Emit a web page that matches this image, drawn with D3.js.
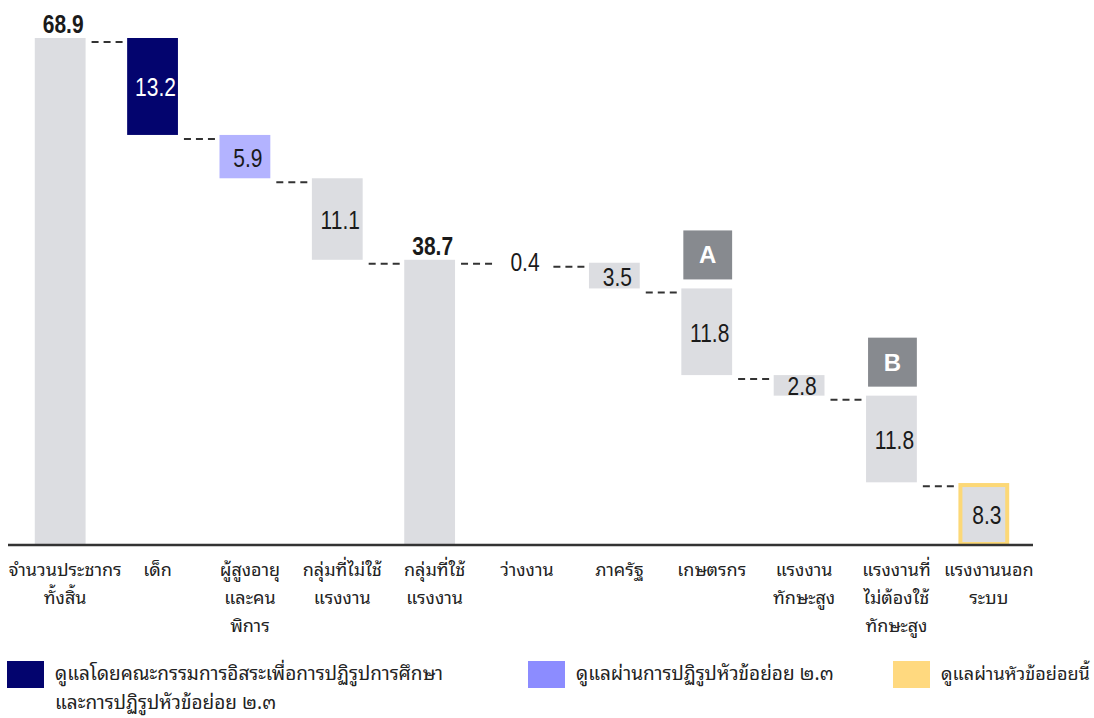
<!DOCTYPE html>
<meta charset="utf-8">
<style>
  body { margin: 0; background: #fff; }
  .cat { font-family: "Tahoma", "Noto Sans Thai Looped", "Loma", "Garuda", "Noto Sans Thai", sans-serif; font-size: 18px; fill: #222; }
  .val { font-family: "Liberation Sans", Arial, sans-serif; font-size: 25px; fill: #1a1a1a; }
  .leg { font-family: "Tahoma", "Noto Sans Thai Looped", "Loma", "Garuda", "Noto Sans Thai", sans-serif; font-size: 19px; fill: #222; }
</style>
<script src="https://cdn.jsdelivr.net/npm/d3@7"></script>
<svg id="chart" width="1094" height="718"></svg>
<script>

// categories (each entry = lines of the label)
var categories = [
  ["จำนวนประชากร", "ทั้งสิ้น"],
  ["เด็ก"],
  ["ผู้สูงอายุ", "และคน", "พิการ"],
  ["กลุ่มที่ไม่ใช้", "แรงงาน"],
  ["กลุ่มที่ใช้", "แรงงาน"],
  ["ว่างงาน"],
  ["ภาครัฐ"],
  ["เกษตรกร"],
  ["แรงงาน", "ทักษะสูง"],
  ["แรงงานที่", "ไม่ต้องใช้", "ทักษะสูง"],
  ["แรงงานนอก", "ระบบ"]
];
var values = [68.9, 13.2, 5.9, 11.1, 38.7, 0.4, 3.5, 11.8, 2.8, 11.8, 8.3];
// total = bar from zero, step = floating drop, none = label only, final = highlighted total
var kinds = ["total", "navy", "purple", "step", "total", "none", "step", "step", "step", "step", "final"];

var markerLabels = ["A", "B"];
var markerIndex = [7, 9];

var legendLabels = [
  ["ดูแลโดยคณะกรรมการอิสระเพื่อการปฏิรูปการศึกษา", "และการปฏิรูปหัวข้อย่อย ๒.๓"],
  ["ดูแลผ่านการปฏิรูปหัวข้อย่อย  ๒.๓"],
  ["ดูแลผ่านหัวข้อย่อยนี้"]
];
var legendColors = ["#03046e", "#8c8cff", "#ffd97f"];

var svg = d3.select("#chart");
var width = +svg.attr("width");
var baseY = 544;

var x = d3.scaleBand()
  .domain(d3.range(values.length))
  .range([14, 1030])
  .paddingInner(0.45)
  .paddingOuter(0.225);

var y = d3.scaleLinear()
  .domain([0, 68.9])
  .range([baseY, 38]);

var fills = { total: "#dcdde1", step: "#dcdde1", navy: "#03046e", purple: "#b3b3ff", final: "#dcdde1" };

// running totals -> start / end of each bar
var run = 0;
var bars = values.map(function(v, i) {
  var k = kinds[i], lo, hi;
  if (k == "total" || k == "final") { lo = 0; hi = v; run = v; }
  else { hi = run; lo = run - v; run = lo; }
  return { i: i, v: v, kind: k, lo: lo, hi: hi, level: (k == "total" || k == "final") ? v : lo };
});

// connectors
var links = bars.slice(0, -1);
svg.append("g").selectAll("line")
  .data(links)
  .enter().append("line")
    .attr("x1", function(d) { return x(d.i) + x.bandwidth() + 6; })
    .attr("x2", function(d) { return x(d.i + 1) - 3; })
    .attr("y1", function(d) { return y(d.level) + 4; })
    .attr("y2", function(d) { return y(d.level) + 4; })
    .attr("stroke", "#333")
    .attr("stroke-width", 2)
    .attr("stroke-dasharray", "7,5");

// bars
svg.append("g").selectAll("rect")
  .data(bars.filter(function(d) { return d.kind != "none"; }))
  .enter().append("rect")
    .attr("x", function(d) { return x(d.i) + (d.kind == "final" ? 2 : 0); })
    .attr("width", function(d) { return x.bandwidth() - (d.kind == "final" ? 4 : 0); })
    .attr("y", function(d) { return y(d.hi) + (d.kind == "final" ? 2 : 0); })
    .attr("height", function(d) { return y(d.lo) - y(d.hi) - (d.kind == "final" ? 2 : 0); })
    .attr("fill", function(d) { return fills[d.kind]; })
    .attr("stroke", function(d) { return d.kind == "final" ? "#fcd877" : "none"; })
    .attr("stroke-width", 4);

// value labels (condensed look via horizontal squeeze)
svg.append("g").selectAll("text")
  .data(bars)
  .enter().append("text")
    .attr("class", "val")
    .attr("text-anchor", "middle")
    .attr("transform", function(d) {
      var cx = x(d.i) + x.bandwidth() / 2 + 3;
      var cy = d.kind == "total" ? y(d.hi) - 5 : (y(d.hi) + y(d.lo)) / 2 + 10;
      return "translate(" + cx + "," + cy + ") scale(0.84,1)";
    })
    .style("font-weight", function(d) { return d.kind == "total" ? "bold" : "normal"; })
    .style("fill", function(d) { return d.kind == "navy" ? "#fff" : "#1a1a1a"; })
    .text(function(d) { return d.v.toFixed(1); });

// A / B markers
var mk = svg.append("g").selectAll("g")
  .data(markerIndex)
  .enter().append("g");
mk.append("rect")
  .attr("x", function(d) { return x(d) + 2; })
  .attr("width", x.bandwidth() - 2)
  .attr("y", function(d) { return y(bars[d].hi) - 58; })
  .attr("height", 49)
  .attr("fill", "#878a8f");
mk.append("text")
  .attr("x", function(d) { return x(d) + 1 + x.bandwidth() / 2; })
  .attr("y", function(d) { return y(bars[d].hi) - 25; })
  .attr("text-anchor", "middle")
  .style("font-family", "Liberation Sans, Arial, sans-serif")
  .style("font-weight", "bold")
  .style("font-size", "24px")
  .style("fill", "#fff")
  .text(function(d, i) { return markerLabels[i]; });

// axis baseline
svg.append("line")
  .attr("x1", 8).attr("x2", 1033)
  .attr("y1", baseY + 1).attr("y2", baseY + 1)
  .attr("stroke", "#333").attr("stroke-width", 2.5);

// category labels
var cat = svg.append("g").selectAll("text")
  .data(categories)
  .enter().append("text")
    .attr("class", "cat")
    .attr("text-anchor", "middle")
    .attr("transform", function(d, i) { return "translate(" + (x(i) + x.bandwidth() / 2 + 5) + ",576)"; });
cat.selectAll("tspan")
  .data(function(d) { return d; })
  .enter().append("tspan")
    .attr("x", 0)
    .attr("y", function(d, j) { return j * 28; })
    .text(function(d) { return d; });

// legend
var legX = [7, 528, 893];
var lg = svg.append("g").selectAll("g")
  .data(legendLabels)
  .enter().append("g")
    .attr("transform", function(d, i) { return "translate(" + legX[i] + ",661)"; });
lg.append("rect")
  .attr("width", 37).attr("height", 27)
  .attr("fill", function(d, i) { return legendColors[i]; });
lg.append("text")
  .attr("class", "leg")
  .each(function(d, i) {
    var t = d3.select(this);
    t.selectAll("tspan")
      .data(d)
      .enter().append("tspan")
        .attr("x", 48)
        .attr("y", function(s, j) { return 19 + j * 29; })
        .text(function(s) { return s; });
    // shrink if it would run past the right edge
    var room = width - 4 - legX[i] - 48;
    var w = this.getBBox().width;
    if (w > room) t.style("font-size", (19 * room / w) + "px");
  });

</script>
